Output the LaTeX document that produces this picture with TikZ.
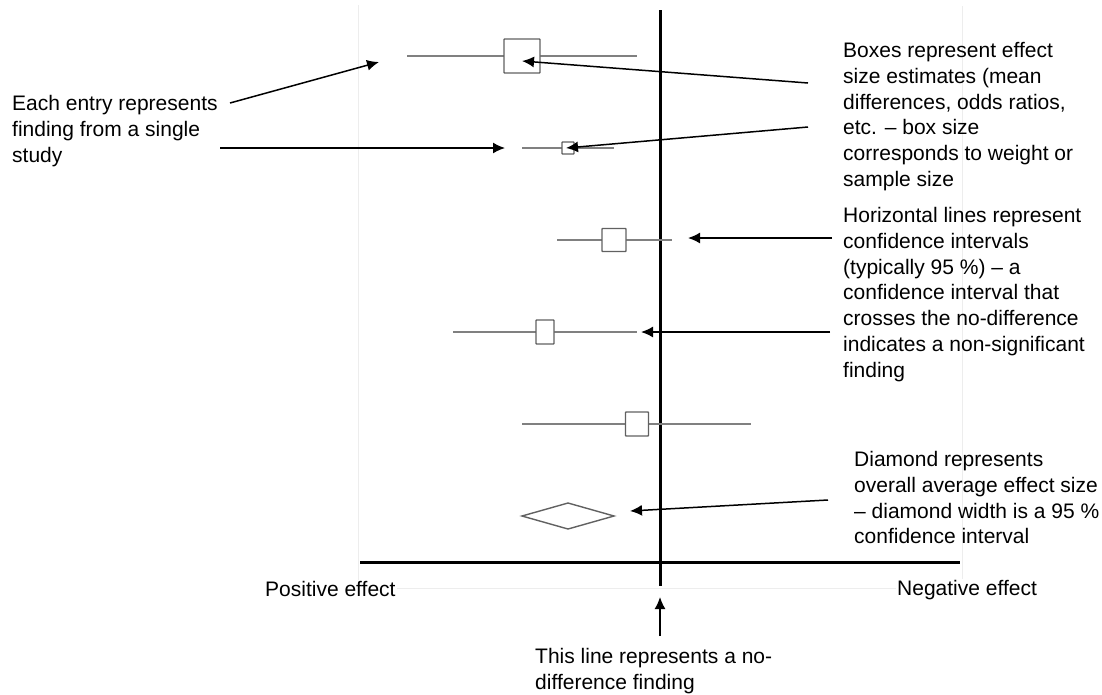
\documentclass[tikz,border=0pt]{standalone}
\usepackage{fontspec}
\setmainfont{Liberation Sans}
\usetikzlibrary{arrows.meta}
\begin{document}
\begin{tikzpicture}[x=1pt,y=-1pt,
  ci/.style={draw=black!50, line width=1.6pt},
  est/.style={draw=black!62, fill=white, line width=1.4pt, inner sep=0pt, rounded corners=0.6pt},
  axis/.style={line width=3pt, black},
  frame/.style={draw=black!7, line width=0.6pt},
  note/.style={line width=1.5pt, -{Latex[length=12pt,width=11pt]}},
  lbl/.style={anchor=north west, inner sep=0pt, align=left, font=\fontsize{21}{25.8}\selectfont},
  ax/.style={inner sep=1pt, fill=white, font=\fontsize{21}{25.8}\selectfont}
]
\useasboundingbox (0,0) rectangle (1102,694);
% faint frame
\draw[frame] (358,5) -- (358,588) -- (962,588) -- (962,6);
% axes
\draw[axis] (360,562) -- (960,562);
\draw[axis] (660,10) -- (660,586);
% study rows
\draw[ci] (407,56) -- (637,56);
\node[est, minimum width=36pt, minimum height=34pt] (b1) at (522,56) {};
\draw[ci] (522,148) -- (614,148);
\node[est, minimum width=12pt, minimum height=12pt] (b2) at (568,148) {};
\draw[ci] (557,240) -- (672,240);
\node[est, minimum width=24pt, minimum height=23pt] (b3) at (614,240) {};
\draw[ci] (453,332) -- (637,332);
\node[est, minimum width=18pt, minimum height=24pt] (b4) at (545,332) {};
\draw[ci] (522,424) -- (751,424);
\node[est, minimum width=23pt, minimum height=24pt] (b5) at (637,424) {};
% diamond
\draw[draw=black!62, line width=1.4pt] (522,516) -- (568,503) -- (614,516) -- (568,529) -- cycle;
% labels
\node[lbl] (each) at (12,95) {Each entry represents\\finding from a single\\study};
\node[lbl] (boxes) at (843,42) {Boxes represent effect\\size estimates (mean\\differences, odds ratios,\\etc. – box size\\corresponds to weight or\\sample size};
\node[lbl] (horiz) at (843,207) {Horizontal lines represent\\confidence intervals\\(typically 95 \%) – a\\confidence interval that\\crosses the no-difference\\indicates a non-significant\\finding};
\node[lbl] (diam) at (854,451) {Diamond represents\\overall average effect size\\– diamond width is a 95 \%\\confidence interval};
\node[ax, anchor=base west] (pos) at (264,596) {Positive effect};
\node[ax, anchor=base west] (neg) at (896,595) {Negative effect};
\node[lbl] (this) at (535,648) {This line represents a no-\\difference finding};
% annotation arrows
\coordinate (e1) at (230,103);
\coordinate (t1) at (379,62);
\draw[note] (e1) -- (t1);
\coordinate (e2) at (220,148);
\coordinate (t2) at (505,148);
\draw[note] (e2) -- (t2);
\coordinate (s3) at (808,83);
\coordinate (t3) at (522,61);
\draw[note] (s3) -- (t3);
\coordinate (s4) at (808,127);
\coordinate (t4) at (566,148);
\draw[note] (s4) -- (t4);
\coordinate (s5) at (832,238);
\coordinate (t5) at (688,238);
\draw[note] (s5) -- (t5);
\coordinate (s6) at (830,332);
\coordinate (t6) at (641,332);
\draw[note] (s6) -- (t6);
\coordinate (s7) at (828,500);
\coordinate (t7) at (630,511);
\draw[note] (s7) -- (t7);
\coordinate (s8) at (660,636);
\coordinate (t8) at (660,597);
\draw[note] (s8) -- (t8);
\end{tikzpicture}
\end{document}
